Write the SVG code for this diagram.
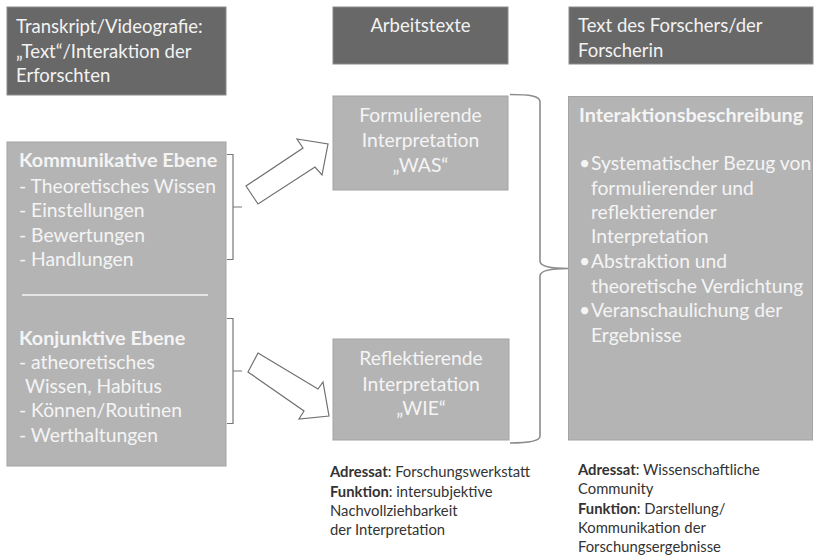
<svg xmlns="http://www.w3.org/2000/svg" width="817" height="558" viewBox="0 0 817 558">
<style>
.dark{fill:#686868;stroke:#8a8a8a;stroke-width:1}
.light{fill:#b4b4b4;stroke:#a4a4a4;stroke-width:1}
text{font-family:Lato,"Open Sans","Liberation Sans",sans-serif}
.hd{font-size:18.5px;fill:#f2f2f2}
.bt{font-size:19.3px;fill:#f4f4f4}
.b{font-weight:bold}
.bb{font-size:19.8px}
.sm{font-size:14.8px;fill:#333}
.brace{fill:none;stroke:#777;stroke-width:1.2}
.bigbrace{fill:none;stroke:#8c8c8c;stroke-width:1.6}
.arrow{fill:#fff;stroke:#707070;stroke-width:1.2;stroke-linejoin:miter}
</style>
<rect width="817" height="558" fill="#fff"/>
<g id="head-left">
<rect class="dark" x="7" y="7" width="219" height="88"/>
<text class="hd" x="16" y="33">Transkript/Videografie:</text>
<text class="hd" x="16" y="58">„Text“/Interaktion der</text>
<text class="hd" x="16" y="82">Erforschten</text>
</g>
<g id="head-mid">
<rect class="dark" x="333" y="7" width="175" height="57"/>
<text class="hd" x="420.5" y="32" text-anchor="middle">Arbeitstexte</text>
</g>
<g id="head-right">
<rect class="dark" x="569" y="7" width="244" height="57"/>
<text class="hd" x="578" y="32">Text des Forschers/der</text>
<text class="hd" x="578" y="57">Forscherin</text>
</g>
<g id="left-box">
<rect class="light" x="7" y="142" width="219" height="324"/>
<text class="bt b bb" x="19" y="167">Kommunikative Ebene</text>
<text class="bt" x="19" y="193">- Theoretisches Wissen</text>
<text class="bt" x="19" y="217">- Einstellungen</text>
<text class="bt" x="19" y="242">- Bewertungen</text>
<text class="bt" x="19" y="266">- Handlungen</text>
<line x1="22" y1="295" x2="208" y2="295" stroke="#f4f4f4" stroke-width="1.3"/>
<text class="bt b bb" x="19" y="345">Konjunktive Ebene</text>
<text class="bt" x="19" y="369">- atheoretisches</text>
<text class="bt" x="25" y="393">Wissen, Habitus</text>
<text class="bt" x="19" y="417">- Können/Routinen</text>
<text class="bt" x="19" y="442">- Werthaltungen</text>
</g>
<g id="formulierende">
<rect class="light" x="333" y="96" width="175" height="94"/>
<text class="bt" x="420.5" y="122" text-anchor="middle">Formulierende</text>
<text class="bt" x="420.5" y="147" text-anchor="middle">Interpretation</text>
<text class="bt" x="420.5" y="172" text-anchor="middle">„WAS“</text>
</g>
<g id="reflektierende">
<rect class="light" x="333" y="339" width="176" height="101"/>
<text class="bt" x="421" y="365" text-anchor="middle">Reflektierende</text>
<text class="bt" x="421" y="391" text-anchor="middle">Interpretation</text>
<text class="bt" x="421" y="415" text-anchor="middle">„WIE“</text>
</g>
<g id="interaktion">
<rect class="light" x="568.5" y="96.5" width="244" height="343.5"/>
<text class="bt b bb" x="579" y="122">Interaktionsbeschreibung</text>
<text class="bt" x="579" y="170">•</text>
<text class="bt" x="591" y="170">Systematischer Bezug von</text>
<text class="bt" x="591" y="195">formulierender und</text>
<text class="bt" x="591" y="219">reflektierender</text>
<text class="bt" x="591" y="243">Interpretation</text>
<text class="bt" x="579" y="268">•</text>
<text class="bt" x="591" y="268">Abstraktion und</text>
<text class="bt" x="591" y="293">theoretische Verdichtung</text>
<text class="bt" x="579" y="317">•</text>
<text class="bt" x="591" y="317">Veranschaulichung der</text>
<text class="bt" x="591" y="342">Ergebnisse</text>
</g>
<g id="note-mid">
<text class="sm" x="330" y="477"><tspan class="b">Adressat</tspan>: Forschungswerkstatt</text>
<text class="sm" x="330" y="496.5"><tspan class="b">Funktion</tspan>: intersubjektive</text>
<text class="sm" x="330" y="516">Nachvollziehbarkeit</text>
<text class="sm" x="330" y="535">der Interpretation</text>
</g>
<g id="note-right">
<text class="sm" x="578" y="475"><tspan class="b">Adressat</tspan>: Wissenschaftliche</text>
<text class="sm" x="578" y="494">Community</text>
<text class="sm" x="578" y="513.5"><tspan class="b">Funktion</tspan>: Darstellung/</text>
<text class="sm" x="578" y="533">Kommunikation der</text>
<text class="sm" x="578" y="552">Forschungsergebnisse</text>
</g>
<g id="connectors">
<path class="brace" d="M227 154.5 H233 V259.5 H227 M233 207 H242"/>
<path class="brace" d="M227 318.5 H233 V423.5 H227 M233 371 H242"/>
<polygon class="arrow" points="246,186 303,148 297,139 328,144 322,175 315,167 258,204"/>
<polygon class="arrow" points="258,353 318,389 323,382 329,416 299,419 304,411 248,372"/>
<path class="bigbrace" d="M510 94.5 C530 94.5 540 96 540 102 V261 C540 266 548 268.5 568 268.5 C548 268.5 540 271 540 276 V436 C540 441 530 443 510 443"/>
</g>
</svg>
